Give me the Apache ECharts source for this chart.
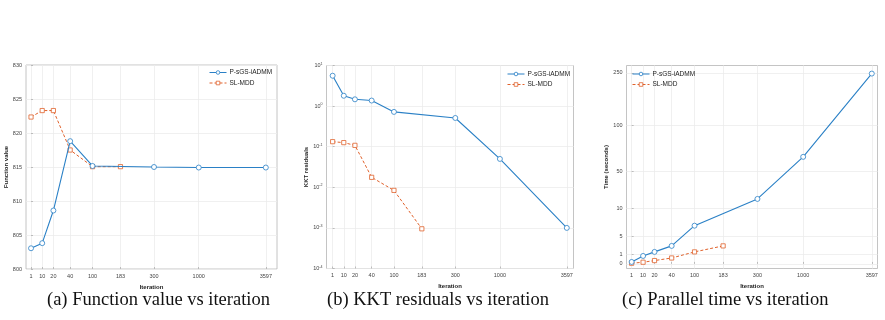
<!DOCTYPE html>
<html>
<head>
<meta charset="utf-8">
<script src="https://cdn.jsdelivr.net/npm/echarts@6/dist/echarts.min.js"></script>
<style>
  html, body { margin: 0; padding: 0; background: #fff; }
  #chart { width: 885px; height: 320px; }
</style>
</head>
<body>
<div id="chart"></div>
<script>
// iteration ticks shared by the three panels
const iterTicks = [1, 10, 20, 40, 100, 183, 300, 1000, 3597];

// (a) function value
const fvIterP = [1, 10, 20, 40, 100, 300, 1000, 3597];
const fvP = [803.05, 803.8, 808.6, 818.8, 815.15, 815.0, 814.92, 814.92];
const fvIterS = [1, 10, 20, 40, 100, 183];
const fvS = [822.35, 823.3, 823.3, 817.5, 815.05, 815.05];

// (b) KKT residuals
const kktIterP = [1, 10, 20, 40, 100, 300, 1000, 3597];
const kktP = [5.6, 1.8, 1.47, 1.37, 0.72, 0.51, 0.05, 0.001];
const kktIterS = [1, 10, 20, 40, 100, 183];
const kktS = [0.133, 0.126, 0.108, 0.0176, 0.0084, 0.00095];

// (c) parallel time (seconds)
const timeIterP = [1, 10, 20, 40, 100, 300, 1000, 3597];
const timeP = [0.21, 0.86, 1.6, 2.9, 6.9, 20.4, 66, 248];
const timeIterS = [1, 10, 20, 40, 100, 183];
const timeS = [0.07, 0.18, 0.36, 0.64, 1.6, 2.9];
const timeTicks = [0, 1, 5, 10, 50, 100, 250];

// the figure uses an uneven (hand spaced) axis scale; these map ticks to axis units
const xScale = [0, 1, 2, 3.5, 5.5, 8, 11, 15, 21];
const tScale = [0, 1, 3, 6, 10, 15, 20.7];

const xPos = it => xScale[iterTicks.indexOf(it)];
const tPos = v => {
  for (let i = 1; i < timeTicks.length; i++) {
    if (v <= timeTicks[i]) {
      const f = (v - timeTicks[i - 1]) / (timeTicks[i] - timeTicks[i - 1]);
      return tScale[i - 1] + f * (tScale[i] - tScale[i - 1]);
    }
  }
  return tScale[tScale.length - 1];
};

const BLUE = '#2a80c6';
const RED = '#e0622c';
const NAME_P = 'P-sGS-iADMM';
const NAME_S = 'SL-MDD';

const pair = (its, vals, fy) => its.map((it, i) => [xPos(it), fy ? fy(vals[i]) : vals[i]]);

const tickLabel = { fontSize: 5.5, color: '#444', fontFamily: 'Liberation Sans' };
const nameStyle = { fontSize: 6, fontWeight: 'bold', color: '#222', fontFamily: 'Liberation Sans' };

const grids = [
  { left: 26, top: 65, width: 251, height: 204 },
  { left: 326.5, top: 65.5, width: 247, height: 203 },
  { left: 626.5, top: 65.5, width: 251, height: 203 }
].map(g => Object.assign(g, { show: true, borderColor: '#b5b5b5', borderWidth: 0.8 }));

const xRanges = [[-0.45, 22], [-0.55, 21.6], [-0.45, 21.5]];

const xAxes = xRanges.map((r, i) => ({
  type: 'value', gridIndex: i, min: r[0], max: r[1],
  name: 'Iteration', nameLocation: 'middle', nameGap: 11, nameTextStyle: nameStyle,
  axisLine: { show: false },
  axisTick: { show: true, inside: true, length: 2, customValues: xScale, lineStyle: { color: '#999', width: 0.6 } },
  axisLabel: Object.assign({
    customValues: xScale, margin: 4,
    formatter: v => iterTicks[xScale.indexOf(v)]
  }, tickLabel),
  splitLine: { show: true, lineStyle: { color: '#ececec', width: 0.8 } }
}));

const yBase = {
  nameLocation: 'middle', nameTextStyle: nameStyle,
  axisLine: { show: false },
  axisTick: { show: true, inside: true, length: 2, lineStyle: { color: '#999', width: 0.6 } },
  splitLine: { show: true, lineStyle: { color: '#ececec', width: 0.8 } }
};

const yAxes = [
  Object.assign({}, yBase, {
    type: 'value', gridIndex: 0, min: 800, max: 830, interval: 5,
    name: 'Function value', nameGap: 14,
    axisLabel: Object.assign({ margin: 4 }, tickLabel)
  }),
  Object.assign({}, yBase, {
    type: 'log', logBase: 10, gridIndex: 1, min: 1e-4, max: 10,
    name: 'KKT residuals', nameGap: 15,
    axisLabel: Object.assign({
      margin: 4,
      formatter: v => '10{s|' + Math.round(Math.log10(v)) + '}',
      rich: { s: { fontSize: 3.6, verticalAlign: 'top', color: '#444', padding: [0, 0, 4, 0] } }
    }, tickLabel)
  }),
  Object.assign({}, yBase, {
    type: 'value', gridIndex: 2, min: -0.5, max: 21.5,
    name: 'Time (seconds)', nameGap: 14,
    axisTick: Object.assign({}, yBase.axisTick, { customValues: tScale }),
    axisLabel: Object.assign({
      margin: 4, customValues: tScale,
      formatter: v => timeTicks[tScale.indexOf(v)]
    }, tickLabel)
  })
];

const mkSeries = (name, i, data, isP) => ({
  name: name, type: 'line', xAxisIndex: i, yAxisIndex: i, data: data,
  symbol: isP ? 'circle' : 'rect',
  symbolSize: isP ? 5 : 4.2,
  showAllSymbol: true,
  lineStyle: { color: isP ? BLUE : RED, width: isP ? 1.1 : 1, type: isP ? 'solid' : [3, 2] },
  itemStyle: { color: '#fff', borderColor: isP ? BLUE : RED, borderWidth: 0.8 },
  emphasis: { disabled: true },
  z: isP ? 3 : 2
});

const series = [
  mkSeries(NAME_P, 0, pair(fvIterP, fvP), true),
  mkSeries(NAME_S, 0, pair(fvIterS, fvS), false),
  mkSeries(NAME_P, 1, pair(kktIterP, kktP), true),
  mkSeries(NAME_S, 1, pair(kktIterS, kktS), false),
  mkSeries(NAME_P, 2, pair(timeIterP, timeP, tPos), true),
  mkSeries(NAME_S, 2, pair(timeIterS, timeS, tPos), false)
];

const legendAt = (left, top) => ({
  left: left, top: top, orient: 'vertical', data: [NAME_P, NAME_S],
  itemWidth: 17, itemHeight: 4.5, itemGap: 3.5, padding: 0,
  selectedMode: false,
  itemStyle: { color: '#fff', borderWidth: 0.8 },
  lineStyle: { width: 1 },
  textStyle: { fontSize: 6.5, color: '#222', fontFamily: 'Liberation Sans', padding: [0, 0, 0, -2] }
});

const caption = (x, text) => ({
  type: 'text', left: x, top: 291,
  style: { text: text, fontSize: 18.5, fontFamily: 'Liberation Serif', fill: '#111' }
});

const option = {
  animation: false,
  grid: grids,
  xAxis: xAxes,
  yAxis: yAxes,
  legend: [legendAt(209, 69), legendAt(507, 70.5), legendAt(632, 70.5)],
  series: series,
  graphic: [
    caption(47, '(a) Function value vs iteration'),
    caption(327, '(b) KKT residuals vs iteration'),
    caption(622, '(c) Parallel time vs iteration')
  ]
};

const myChart = echarts.init(document.getElementById('chart'));
myChart.setOption(option);
</script>
</body>
</html>
